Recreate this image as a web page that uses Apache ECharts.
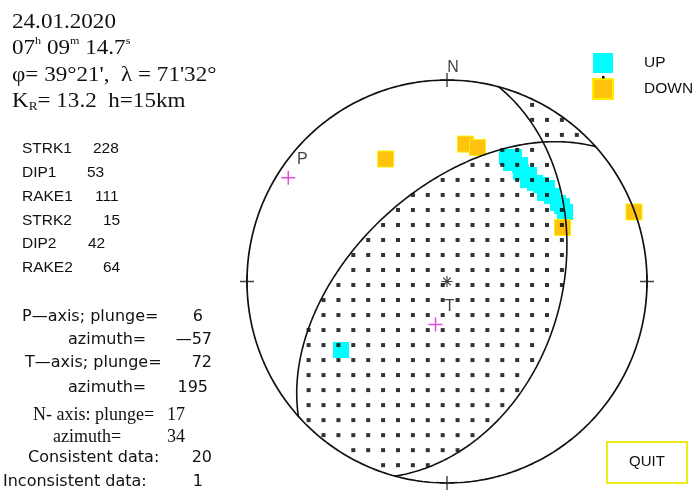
<!DOCTYPE html>
<html>
<head>
<meta charset="utf-8">
<script src="https://cdn.jsdelivr.net/npm/echarts@6/dist/echarts.min.js"></script>
<style>
html,body{margin:0;padding:0;background:#fff;}
#chart{width:696px;height:500px;}
</style>
</head>
<body>
<div id="chart"></div>
<script>
// Fault-plane solution on a lower-hemisphere equal-area (Schmidt) net.

// Event header
const eventDate = '24.01.2020';
const eventTime = ['07', '09', '14.7'];
const eventLat = "39°21'";
const eventLon = "71'32°";
const energyClass = '13.2';
const depthKm = 15;

// Nodal planes
const paramLabels = ['STRK1', 'DIP1', 'RAKE1', 'STRK2', 'DIP2', 'RAKE2'];
const paramValues = [228, 53, 111, 15, 42, 64];

// Principal axes
const axisNames = ['P', 'T', 'N'];
const axisPlunge = [6, 72, 17];
const axisAzimuth = [-57, 195, 34];

// Data counts
const countLabels = ['Consistent data:', 'Inconsistent data:'];
const countValues = [20, 1];

// First-motion polarities as net coordinates [east, north], unit radius
const upPoints = [
  [-0.53, -0.34],
  [0.30, 0.618], [0.335, 0.618], [0.32, 0.588], [0.365, 0.578], [0.37, 0.543],
  [0.41, 0.529], [0.405, 0.504], [0.44, 0.489], [0.47, 0.479], [0.50, 0.464],
  [0.49, 0.439], [0.525, 0.424], [0.555, 0.389], [0.575, 0.374], [0.59, 0.345]
];
const downPoints = [
  [-0.3065, 0.608], [0.0925, 0.682], [0.1525, 0.665], [0.5775, 0.268], [0.935, 0.345]
];

const RAD = Math.PI / 180;

// equal-area projection of a lower-hemisphere unit vector [e, n, z] (z <= 0)
function project(v) {
  const k = 1 / Math.sqrt(1 - v[2]);
  return [v[0] * k, v[1] * k];
}
function unproject(x, y) {
  const r2 = x * x + y * y;
  const f = Math.sqrt(2 - r2);
  return [x * f, y * f, r2 - 1];
}
function planeVectors(strike, dip) {
  const s = strike * RAD, d = dip * RAD, dd = s + Math.PI / 2;
  const sv = [Math.sin(s), Math.cos(s), 0];
  const dv = [Math.sin(dd) * Math.cos(d), Math.cos(dd) * Math.cos(d), -Math.sin(d)];
  return { sv, dv };
}
function greatCircle(strike, dip) {
  const { sv, dv } = planeVectors(strike, dip);
  const pts = [];
  for (let a = 0; a <= 180; a += 1) {
    const c = Math.cos(a * RAD), s = Math.sin(a * RAD);
    pts.push(project([c * sv[0] + s * dv[0], c * sv[1] + s * dv[1], c * sv[2] + s * dv[2]]));
  }
  return pts;
}
function planeNormal(strike, dip) {
  const { sv, dv } = planeVectors(strike, dip);
  return [sv[1] * dv[2] - sv[2] * dv[1], sv[2] * dv[0] - sv[0] * dv[2], sv[0] * dv[1] - sv[1] * dv[0]];
}
function axisPoint(plunge, azimuth) {
  const p = plunge * RAD, a = azimuth * RAD;
  return project([Math.cos(p) * Math.sin(a), Math.cos(p) * Math.cos(a), -Math.sin(p)]);
}
const dot3 = (a, b) => a[0] * b[0] + a[1] * b[1] + a[2] * b[2];

const strike1 = paramValues[0], dip1 = paramValues[1];
const strike2 = paramValues[3], dip2 = paramValues[4];

// primitive circle
const rim = [];
for (let a = 0; a <= 360; a += 1) rim.push([Math.sin(a * RAD), Math.cos(a * RAD)]);

// stippling of the quadrants that share the sign of the centre of the net
const n1 = planeNormal(strike1, dip1), n2 = planeNormal(strike2, dip2);
const down = [0, 0, -1];
const refSign = Math.sign(dot3(n1, down) * dot3(n2, down));
const stipple = [];
const step = 0.0745, ox = -0.0215, oy = 0.206;
for (let i = -16; i <= 16; i++) {
  for (let j = -16; j <= 16; j++) {
    const x = ox + i * step, y = oy + j * step;
    if (x * x + y * y > 0.985) continue;
    const v = unproject(x, y);
    if (Math.sign(dot3(n1, v) * dot3(n2, v)) === refSign) stipple.push([x, y]);
  }
}

const plusPath = 'path://M7,0V14M0,7H14';
const starPath = 'path://M6,0V12M0,6H12M1.8,1.8L10.2,10.2M10.2,1.8L1.8,10.2';

const axisMarks = [0, 1].map(k => ({ name: axisNames[k], value: axisPoint(axisPlunge[k], axisAzimuth[k]) }));
const rimTicks = [
  { name: 'N', value: [0, 1] }, { name: '', value: [1, 0] },
  { name: '', value: [0, -1] }, { name: '', value: [-1, 0] }
];

const textColor = '#111';
const sans = 'Liberation Sans';
const wideSans = 'DejaVu Sans';
const serif = 'Liberation Serif';

const graphics = [];
// header block
const headerRich = {
  sup: { fontSize: 11, fontFamily: serif, verticalAlign: 'top', lineHeight: 12 },
  sub: { fontSize: 12, fontFamily: serif, verticalAlign: 'bottom', lineHeight: 12 }
};
const headerLines = [
  eventDate,
  eventTime[0] + '{sup|h} ' + eventTime[1] + '{sup|m} ' + eventTime[2] + '{sup|s}',
  'φ= ' + eventLat + ',  λ = ' + eventLon,
  'K{sub|R}= ' + energyClass + '  h=' + depthKm + 'km'
];
const headerY = [22, 48, 75, 101];
const headerChildren = headerLines.map((t, k) => ({
  type: 'text', x: 0, y: headerY[k],
  style: { text: t, fontSize: 21, fontFamily: serif, fill: textColor, lineHeight: 24,
           verticalAlign: 'middle', align: 'left', rich: headerRich }
}));
graphics.push({ type: 'group', x: 12, y: 0, scaleX: 1.1, children: headerChildren });

// nodal-plane parameters
const paramValueX = [93, 87, 95, 103, 88, 103];
paramLabels.forEach((lab, k) => {
  const y = 149 + 23.8 * k;
  graphics.push({ type: 'text', x: 22, y, style: { text: lab, fontSize: 15.5, fontFamily: sans, fill: textColor, verticalAlign: 'middle' } });
  graphics.push({ type: 'text', x: paramValueX[k], y, style: { text: String(paramValues[k]), fontSize: 15.5, fontFamily: sans, fill: textColor, verticalAlign: 'middle' } });
});

// axes and counts
const fmtAz = v => (v < 0 ? '—' + Math.abs(v) : String(v));
const lowerRows = [
  { lab: 'P—axis; plunge=', x: 22, y: 317, val: String(axisPlunge[0]), vx: 203, font: wideSans, size: 16 },
  { lab: 'azimuth=', x: 68, y: 340, val: fmtAz(axisAzimuth[0]), vx: 212, font: wideSans, size: 16 },
  { lab: 'T—axis; plunge=', x: 25, y: 363, val: String(axisPlunge[1]), vx: 212, font: wideSans, size: 16 },
  { lab: 'azimuth=', x: 68, y: 388, val: fmtAz(axisAzimuth[1]), vx: 208, font: wideSans, size: 16 },
  { lab: 'N- axis: plunge=', x: 33, y: 415, val: String(axisPlunge[2]), vx: 185, font: serif, size: 18 },
  { lab: 'azimuth=', x: 53, y: 437, val: String(axisAzimuth[2]), vx: 185, font: serif, size: 18 },
  { lab: countLabels[0], x: 28, y: 458, val: String(countValues[0]), vx: 212, font: wideSans, size: 16 },
  { lab: countLabels[1], x: 3, y: 482, val: String(countValues[1]), vx: 203, font: wideSans, size: 16 }
];
lowerRows.forEach(r => {
  graphics.push({ type: 'text', x: r.x, y: r.y, style: { text: r.lab, fontSize: r.size, fontFamily: r.font, fill: textColor, verticalAlign: 'middle' } });
  graphics.push({ type: 'text', x: r.vx, y: r.y, style: { text: r.val, fontSize: r.size, fontFamily: r.font, fill: textColor, verticalAlign: 'middle', align: 'right' } });
});

// marker inside the DOWN legend key
graphics.push({ type: 'rect', shape: { x: 602, y: 76, width: 2.5, height: 2.5 }, style: { fill: '#000' }, z: 100 });

// QUIT button
graphics.push({ type: 'rect', shape: { x: 607, y: 442, width: 80, height: 41 }, style: { fill: 'none', stroke: '#EEEA1A', lineWidth: 2 } });
graphics.push({ type: 'text', x: 647, y: 462, style: { text: 'QUIT', fontSize: 15, fontFamily: sans, fill: textColor, align: 'center', verticalAlign: 'middle' } });

const option = {
  animation: false,
  backgroundColor: '#fff',
  grid: { left: 247, top: 80, width: 400, height: 403, containLabel: false },
  xAxis: { type: 'value', min: -1, max: 1, show: false },
  yAxis: { type: 'value', min: -1, max: 1, show: false },
  legend: {
    data: ['UP', 'DOWN'], orient: 'vertical', left: 587, top: 48,
    itemWidth: 20, itemHeight: 20, itemGap: 5, icon: 'rect', selectedMode: false,
    textStyle: { fontSize: 15.5, fontFamily: sans, color: textColor, padding: [0, 0, 0, 26] }
  },
  graphic: graphics,
  series: [
    {
      name: 'UP', type: 'scatter', data: upPoints, symbol: 'rect', symbolSize: 16, z: 2,
      itemStyle: { color: '#00FFFF', opacity: 1 }, silent: true
    },
    {
      name: 'DOWN', type: 'scatter', data: downPoints, symbol: 'rect', symbolSize: 16, z: 2,
      itemStyle: { color: '#FFC20E', borderColor: '#FFEE00', borderWidth: 1, opacity: 1 }, silent: true
    },
    {
      name: 'stipple', type: 'scatter', data: stipple, symbol: 'rect', symbolSize: 4, z: 3,
      itemStyle: { color: '#000' }, silent: true
    },
    {
      name: 'rim', type: 'line', data: rim, symbol: 'none', z: 4, silent: true,
      lineStyle: { color: '#111', width: 1.7 }
    },
    {
      name: 'plane1', type: 'line', data: greatCircle(strike1, dip1), symbol: 'none', z: 4, silent: true,
      lineStyle: { color: '#111', width: 1.6 }
    },
    {
      name: 'plane2', type: 'line', data: greatCircle(strike2, dip2), symbol: 'none', z: 4, silent: true,
      lineStyle: { color: '#111', width: 1.6 }
    },
    {
      name: 'ticks', type: 'scatter', data: rimTicks, symbol: plusPath, symbolSize: 14, z: 5, silent: true,
      itemStyle: { color: 'rgba(0,0,0,0)', borderColor: '#111', borderWidth: 1.4 },
      label: { show: true, formatter: '{b}', position: 'inside', offset: [6, -12], fontSize: 16, fontFamily: sans, color: textColor }
    },
    {
      name: 'axes', type: 'scatter', data: axisMarks, symbol: plusPath, symbolSize: 14, z: 5, silent: true,
      itemStyle: { color: 'rgba(0,0,0,0)', borderColor: '#D81ED8', borderWidth: 1.5 },
      label: { show: true, formatter: '{b}', position: 'inside', offset: [14, -18], fontSize: 16, fontFamily: sans, color: textColor }
    },
    {
      name: 'centre', type: 'scatter', data: [[0, 0]], symbol: starPath, symbolSize: 11, z: 5, silent: true,
      itemStyle: { color: 'rgba(0,0,0,0)', borderColor: '#111', borderWidth: 1.2 }
    }
  ]
};

const chart = echarts.init(document.getElementById('chart'));
chart.setOption(option);
</script>
</body>
</html>
